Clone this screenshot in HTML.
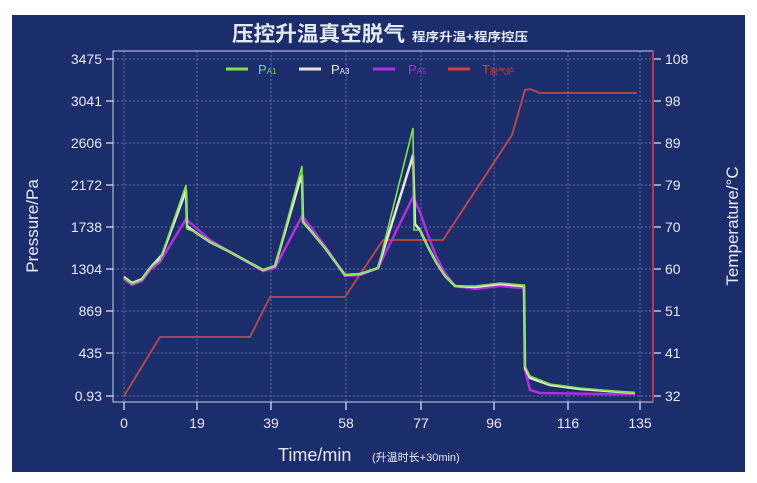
<!DOCTYPE html>
<html><head><meta charset="utf-8"><style>
body{margin:0;background:#fff;width:757px;height:483px;overflow:hidden}
svg{display:block}
text{font-family:"Liberation Sans","Noto Sans CJK SC",sans-serif;fill:#e6eaf5}
</style></head><body>
<svg width="757" height="483" viewBox="0 0 757 483">
<rect x="12" y="15" width="733" height="457" fill="#1c2d6c"/>
<g stroke="#8a9ad0" stroke-width="0.8" stroke-dasharray="2,2" opacity="0.8">
<line x1="113" x2="653" y1="59" y2="59"/><line x1="113" x2="653" y1="101" y2="101"/>
<line x1="113" x2="653" y1="143" y2="143"/><line x1="113" x2="653" y1="185" y2="185"/>
<line x1="113" x2="653" y1="227" y2="227"/><line x1="113" x2="653" y1="269" y2="269"/>
<line x1="113" x2="653" y1="311" y2="311"/><line x1="113" x2="653" y1="353" y2="353"/>
<line x1="113" x2="653" y1="396" y2="396"/>
<line x1="124" x2="124" y1="51" y2="402"/><line x1="197" x2="197" y1="51" y2="402"/>
<line x1="271" x2="271" y1="51" y2="402"/><line x1="346" x2="346" y1="51" y2="402"/>
<line x1="421" x2="421" y1="51" y2="402"/><line x1="494" x2="494" y1="51" y2="402"/>
<line x1="568" x2="568" y1="51" y2="402"/><line x1="640" x2="640" y1="51" y2="402"/>
</g>
<rect x="113" y="51" width="540" height="351" fill="none" stroke="#c8d0ee" stroke-width="1"/>
<line x1="653" y1="51" x2="653" y2="402" stroke="#b04050" stroke-width="2"/>
<g stroke="#e6eaf5" stroke-width="1.2">
<line x1="106" x2="113" y1="59" y2="59"/><line x1="106" x2="113" y1="101" y2="101"/><line x1="106" x2="113" y1="143" y2="143"/><line x1="106" x2="113" y1="185" y2="185"/><line x1="106" x2="113" y1="227" y2="227"/><line x1="106" x2="113" y1="269" y2="269"/><line x1="106" x2="113" y1="311" y2="311"/><line x1="106" x2="113" y1="353" y2="353"/><line x1="106" x2="113" y1="396" y2="396"/>
<line x1="654" x2="661" y1="59" y2="59"/><line x1="654" x2="661" y1="101" y2="101"/><line x1="654" x2="661" y1="143" y2="143"/><line x1="654" x2="661" y1="185" y2="185"/><line x1="654" x2="661" y1="227" y2="227"/><line x1="654" x2="661" y1="269" y2="269"/><line x1="654" x2="661" y1="311" y2="311"/><line x1="654" x2="661" y1="353" y2="353"/><line x1="654" x2="661" y1="396" y2="396"/>
<line y1="402" y2="410" x1="124" x2="124"/><line y1="402" y2="410" x1="197" x2="197"/><line y1="402" y2="410" x1="271" x2="271"/><line y1="402" y2="410" x1="346" x2="346"/><line y1="402" y2="410" x1="421" x2="421"/><line y1="402" y2="410" x1="494" x2="494"/><line y1="402" y2="410" x1="568" x2="568"/><line y1="402" y2="410" x1="640" x2="640"/>
</g>
<g font-size="14" text-anchor="end">
<text x="102" y="64">3475</text><text x="102" y="106">3041</text><text x="102" y="148">2606</text><text x="102" y="190">2172</text><text x="102" y="232">1738</text><text x="102" y="274">1304</text><text x="102" y="316">869</text><text x="102" y="358">435</text><text x="102" y="401">0.93</text>
</g>
<g font-size="14" text-anchor="start">
<text x="665" y="64">108</text><text x="665" y="106">98</text><text x="665" y="148">89</text><text x="665" y="190">79</text><text x="665" y="232">70</text><text x="665" y="274">60</text><text x="665" y="316">51</text><text x="665" y="358">41</text><text x="665" y="401">32</text>
</g>
<g font-size="14" text-anchor="middle">
<text x="124" y="428">0</text><text x="197" y="428">19</text><text x="271" y="428">39</text><text x="346" y="428">58</text><text x="421" y="428">77</text><text x="494" y="428">96</text><text x="568" y="428">116</text><text x="640" y="428">135</text>
</g>
<text x="278" y="461" font-size="18">Time/min</text>
<text x="372" y="461" font-size="11">(升温时长+30min)</text>
<text transform="translate(38,226) rotate(-90)" font-size="17" text-anchor="middle">Pressure/Pa</text>
<text transform="translate(738,226) rotate(-90)" font-size="17" text-anchor="middle">Temperature/°C</text>
<text x="232" y="41" font-size="21" font-weight="bold" textLength="173" lengthAdjust="spacingAndGlyphs">压控升温真空脱气</text>
<text x="412" y="41" font-size="12" font-weight="bold" textLength="116" lengthAdjust="spacingAndGlyphs">程序升温+程序控压</text>
<!-- legend -->
<line x1="226" x2="248" y1="69" y2="69" stroke="#7ee04a" stroke-width="3"/><text x="258" y="74" font-size="13" style="fill:#7ee04a">P<tspan font-size="8">A1</tspan></text>
<line x1="299" x2="321" y1="69" y2="69" stroke="#e8e6da" stroke-width="3"/><text x="331" y="74" font-size="13" style="fill:#e8e6da">P<tspan font-size="8">A3</tspan></text>
<line x1="373" x2="395" y1="69" y2="69" stroke="#b030e0" stroke-width="3"/><text x="408" y="74" font-size="13" style="fill:#b030e0">P<tspan font-size="8">A5</tspan></text>
<line x1="448" x2="470" y1="69" y2="69" stroke="#d04030" stroke-width="3"/><text x="482" y="74" font-size="13" style="fill:#d04030">T<tspan font-size="8">脱气炉</tspan></text>
<!-- temperature -->
<polyline fill="none" stroke="#c04848" stroke-width="1.8" points="124,396 160,337 250,337 270,297 345,297 383,240 443,240 512,135 525,90 530,89 540,93 637,93"/>
<!-- PA5 -->
<polyline fill="none" stroke="#b030e0" stroke-width="2.5" points="124,279 132,285 142,281 150,270 160,262 186,219 195,227 210,240 230,252 263,271 275,268 302,216 310,226 325,246 345,276 360,275 378,268 413,197 420,212 428,235 436,256 445,273 455,286 475,289 500,286 522,288 524,288 525,370 530,390 540,393 600,394 635,394"/>
<!-- PA3 -->
<polyline fill="none" stroke="#e8e6da" stroke-width="2.5" points="124,277 132,283 142,279 150,268 162,255 184,196 186,190 187,226 195,232 210,242 230,252 263,270 275,266 300,180 302,175 303,222 310,230 325,248 345,275 360,274 378,268 411,162 413,155 415,224 420,230 428,247 436,262 445,276 455,286 475,287 500,284 522,286 524,286 525,368 530,378 550,385 580,389 635,393"/>
<!-- PA1 -->
<polyline fill="none" stroke="#7ee04a" stroke-width="1.6" points="124,278 132,284 142,280 150,268 160,260 186,185 187,229 195,232 210,242 230,252 263,270 275,266 302,166 303,223 310,230 325,248 345,275 360,274 378,268 413,128 414,230 420,230 428,247 436,262 445,276 455,286 475,286 500,283 522,285 524,285 525,366 530,376 550,384 580,388 635,393"/>
</svg>
</body></html>
